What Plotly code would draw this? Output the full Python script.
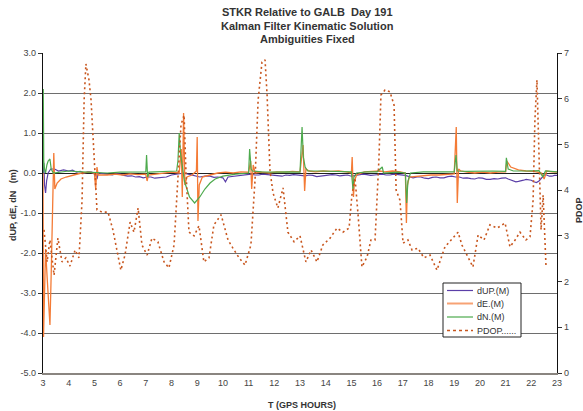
import plotly.graph_objects as go

# ---------------- data ----------------
t_up = [3.0, 3.03, 3.06, 3.1, 3.14, 3.2, 3.3, 3.45, 3.6, 3.8, 4.0, 4.15, 4.3, 4.45, 4.6, 4.75, 4.9, 5.05, 5.1, 5.15,
        5.4, 5.55, 5.7, 5.85, 6.0, 6.15, 6.3, 6.45, 6.6, 6.75, 6.9, 7.05, 7.2, 7.35, 7.5, 7.65, 7.8, 8.0, 8.15, 8.3,
        8.5, 8.65, 8.8, 8.95, 9.1, 9.3, 9.5, 9.65, 9.8, 10.0, 10.1, 10.2, 10.35, 10.5, 10.65, 10.8, 10.95, 11.1, 11.25,
        11.4, 11.55, 11.7, 11.85, 12.0, 12.15, 12.3, 12.45, 12.6, 12.75, 12.9, 13.05, 13.2, 13.35, 13.5, 13.65, 13.8,
        13.95, 14.1, 14.25, 14.4, 14.55, 14.7, 14.85, 15.0, 15.15, 15.3, 15.45, 15.6, 15.75, 15.9, 16.05, 16.2, 16.35,
        16.5, 16.65, 16.8, 16.95, 17.1, 17.25, 17.4, 17.55, 17.7, 17.85, 18.0, 18.15, 18.3, 18.45, 18.6, 18.75, 18.9,
        19.05, 19.2, 19.35, 19.5, 19.65, 19.8, 19.95, 20.1, 20.25, 20.4, 20.55, 20.7, 20.85, 21.0, 21.1, 21.2, 21.3,
        21.4, 21.5, 21.6, 21.7, 21.8, 21.9, 22.0, 22.1, 22.2, 22.3, 22.4, 22.5, 22.6, 22.7, 22.8, 22.9, 23.0]
d_up = [0.0, 0.25, -0.3, -0.5, -0.2, 0.0, 0.1, 0.1, 0.05, 0.08, 0.05, 0.07, 0.02, 0.04, 0.0, 0.03, 0.02, -0.05, -0.15, 0.0,
        -0.02, -0.04, -0.05, -0.02, -0.03, -0.06, -0.08, -0.07, -0.1, -0.09, -0.12, -0.1, -0.1, -0.13, -0.12, -0.1, -0.1, -0.05, -0.04, -0.02,
        0.0, -0.03, -0.05, -0.07, -0.1, -0.08, -0.08, -0.11, -0.1, -0.12, -0.22, -0.1, -0.09, -0.08, -0.06, -0.05, -0.04, -0.03, -0.05,
        -0.05, -0.03, -0.04, -0.06, -0.06, -0.08, -0.08, -0.05, -0.06, -0.04, -0.05, -0.06, -0.07, -0.05, -0.06, -0.09, -0.08,
        -0.06, -0.06, -0.04, -0.05, -0.07, -0.06, -0.05, -0.08, -0.06, -0.05, -0.03, -0.04, -0.06, -0.05, -0.04, -0.03, -0.05,
        -0.05, -0.03, -0.04, -0.06, -0.06, -0.09, -0.12, -0.1, -0.1, -0.13, -0.14, -0.11, -0.1, -0.12, -0.12, -0.09, -0.08,
        -0.1, -0.1, -0.13, -0.12, -0.14, -0.15, -0.12, -0.13, -0.16, -0.16, -0.14, -0.15, -0.13, -0.12, -0.15, -0.18, -0.2,
        -0.22, -0.21, -0.2, -0.18, -0.16, -0.17, -0.18, -0.22, -0.24, -0.2, -0.12, -0.05, -0.05, -0.08, -0.08, -0.06, -0.06]

t_e = [3.0, 3.02, 3.06, 3.1, 3.16, 3.22, 3.27, 3.32, 3.37, 3.42, 3.46, 3.55, 3.7, 3.9, 4.2, 4.5, 4.8, 5.0, 5.05, 5.1,
       5.15, 5.5, 5.8, 6.1, 6.4, 6.7, 7.0, 7.05, 7.1, 7.4, 7.7, 8.0, 8.3, 8.38, 8.42, 8.47, 8.52, 8.6, 8.8, 8.97,
       9.0, 9.03, 9.08, 9.2, 9.5, 9.8, 10.1, 10.4, 10.7, 11.0, 11.08, 11.12, 11.18, 11.25, 11.5, 11.8, 12.1, 12.4, 12.7,
       13.0, 13.12, 13.18, 13.23, 13.35, 13.6, 13.9, 14.2, 14.5, 14.8, 15.0, 15.03, 15.08, 15.12, 15.2, 15.5, 15.8, 16.1,
       16.3, 16.6, 16.9, 17.1, 17.14, 17.18, 17.25, 17.5, 17.8, 18.1, 18.4, 18.7, 19.0, 19.08, 19.12, 19.17, 19.25, 19.5,
       19.8, 20.1, 20.4, 20.7, 21.0, 21.05, 21.2, 21.5, 21.8, 22.1, 22.4, 22.5, 22.6, 22.8, 23.0]
d_e = [0.0, -4.1, -3.0, -1.9, -2.6, -3.4, -3.8, -2.5, -0.8, 0.5, -0.4, -0.25, -0.15, -0.1, -0.05, 0.0, 0.02, 0.0, -0.4, 0.15,
       -0.05, -0.05, -0.03, -0.05, -0.02, -0.04, -0.03, -0.2, -0.05, -0.03, 0.0, 0.02, 0.0, 0.6, -0.6, 1.5, -0.3, -0.1, -0.05, 0.05,
       0.9, -1.2, -0.3, -0.1, -0.05, 0.0, 0.02, 0.0, 0.03, 0.02, 0.3, -0.4, 0.2, 0.0, 0.02, 0.0, 0.03, 0.02, 0.04,
       0.03, 0.7, -0.45, 0.1, 0.05, 0.03, 0.05, 0.04, 0.05, 0.03, 0.0, 0.4, -0.6, -0.2, -0.05, 0.03, 0.04, 0.05,
       0.03, 0.05, 0.03, 0.0, -1.25, -0.3, -0.1, -0.08, -0.07, -0.05, -0.05, -0.04, -0.02, 1.15, -0.75, 0.1, 0.05, 0.02,
       0.0, 0.02, 0.0, 0.02, 0.03, 0.3, 0.15, 0.08, 0.05, 0.04, 0.0, -0.15, 0.05, 0.03, 0.02]

t_n = [3.0, 3.01, 3.03, 3.06, 3.1, 3.15, 3.2, 3.27, 3.32, 3.4, 3.6, 4.0, 4.5, 5.0, 5.5, 6.0, 6.5, 7.0, 7.03, 7.07,
       7.12, 7.5, 8.0, 8.2, 8.25, 8.3, 8.35, 8.42, 8.5, 8.7, 8.9, 9.1, 9.3, 9.5, 9.7, 10.0, 10.5, 11.0, 11.04, 11.1,
       11.15, 11.5, 12.0, 12.5, 13.0, 13.08, 13.13, 13.2, 13.3, 13.8, 14.5, 15.0, 15.06, 15.1, 15.2, 15.6, 16.0, 16.2,
       16.25, 16.8, 17.1, 17.15, 17.2, 17.3, 17.8, 18.5, 19.0, 19.07, 19.12, 19.5, 20.0, 20.5, 21.0, 21.03, 21.1, 21.3,
       21.8, 22.3, 22.45, 22.55, 23.0]
d_n = [0.0, 2.1, 0.3, 0.1, 0.0, 0.2, 0.3, 0.35, 0.1, 0.0, 0.02, 0.05, 0.03, 0.02, 0.0, 0.02, 0.03, 0.03, 0.45, -0.1,
       0.02, 0.03, 0.05, 0.05, 0.3, 1.0, 0.5, 0.1, -0.2, -0.6, -0.75, -0.6, -0.4, -0.25, -0.15, -0.08, -0.03, 0.0, 0.6, 0.1,
       0.05, 0.03, 0.02, 0.03, 0.02, 1.15, 0.4, 0.15, 0.05, 0.05, 0.04, 0.03, -0.4, -0.1, 0.0, 0.03, 0.03, 0.15,
       0.0, 0.02, 0.0, -0.75, -0.2, 0.0, 0.03, 0.04, 0.03, 0.45, 0.05, 0.04, 0.05, 0.05, 0.04, 0.38, 0.1, 0.05,
       0.05, 0.06, -0.1, 0.05, 0.03]

t_p = [3.04, 3.16, 3.27, 3.43, 3.58, 3.74, 3.89, 4.05, 4.25, 4.40, 4.52, 4.60, 4.67, 4.79, 4.87, 4.98, 5.10, 5.30, 5.53,
       5.72, 5.88, 6.03, 6.19, 6.39, 6.54, 6.70, 6.85, 7.05, 7.24, 7.47, 7.71, 7.90, 8.10, 8.25, 8.37, 8.49, 8.56, 8.68,
       8.88, 9.07, 9.26, 9.46, 9.65, 9.93, 10.20, 10.39, 10.63, 10.86, 11.09, 11.25, 11.37, 11.52, 11.64, 11.72, 11.83,
       11.95, 12.14, 12.34, 12.53, 12.77, 13.00, 13.23, 13.43, 13.66, 13.89, 14.17, 14.44, 14.67, 14.91, 15.02, 15.14,
       15.26, 15.41, 15.61, 15.76, 15.92, 16.07, 16.15, 16.31, 16.50, 16.66, 16.74, 16.89, 17.01, 17.20, 17.36, 17.59,
       17.82, 18.06, 18.33, 18.49, 18.64, 18.88, 19.15, 19.30, 19.50, 19.73, 19.93, 20.16, 20.39, 20.67, 20.98, 21.17,
       21.37, 21.56, 21.79, 21.95, 22.07, 22.14, 22.22, 22.30, 22.38, 22.46, 22.53, 22.57]
pdop = [3.13, 2.43, 2.91, 2.14, 2.95, 2.43, 2.52, 2.34, 2.69, 2.52, 3.78, 5.97, 6.76, 6.41, 5.97, 4.66, 3.57, 3.52, 3.52,
        3.13, 2.69, 2.25, 2.58, 3.30, 3.08, 3.61, 2.80, 2.58, 2.95, 2.87, 2.43, 2.30, 2.80, 4.22, 5.43, 5.64, 4.44, 3.08,
        3.00, 3.22, 2.43, 2.52, 3.24, 3.46, 2.91, 2.73, 2.52, 2.36, 2.80, 4.22, 5.97, 6.80, 6.85, 6.08, 4.44,
        3.94, 3.61, 4.05, 3.08, 2.87, 3.00, 2.43, 2.69, 2.43, 2.80, 2.95, 3.17, 3.08, 3.17, 3.89, 4.27,
        3.46, 2.32, 2.54, 2.91, 2.91, 4.66, 6.08, 6.19, 6.15, 5.86, 4.00, 3.78, 2.84, 2.91, 2.69, 2.73,
        2.52, 2.58, 2.25, 2.52, 2.76, 2.91, 3.08, 2.80, 2.58, 2.32, 3.02, 2.91, 3.24, 3.17, 3.28, 2.76,
        2.91, 3.08, 2.91, 2.98, 3.78, 5.53, 6.41, 4.88, 3.13, 3.89, 2.69, 2.36]

series_names = ["dUP.(M)", "dE.(M)", "dN.(M)", "PDOP......"]
x_ticks = list(range(3, 24))
y_ticks = [3.0, 2.0, 1.0, 0.0, -1.0, -2.0, -3.0, -4.0, -5.0]
y2_ticks = list(range(0, 8))

# ---------------- styles ----------------
FONT = "Arial, Liberation Sans, sans-serif"
colors = ["#5B3FA8", "#F47B36", "#4DAA4D", "#C8561E"]
legend_colors = ["#5B3FA8", "#F7A274", "#4DAA4D", "#C8561E"]
legend_widths = [1.2, 2.0, 1.2, 1.5]
legend_dash = ["solid", "solid", "solid", "3px,3px"]

fig = go.Figure()
fig.add_trace(go.Scatter(x=t_up, y=d_up, mode="lines", name=series_names[0],
                         line=dict(color=colors[0], width=1.2)))
fig.add_trace(go.Scatter(x=t_e, y=d_e, mode="lines", name=series_names[1],
                         line=dict(color=colors[1], width=1.3)))
fig.add_trace(go.Scatter(x=t_n, y=d_n, mode="lines", name=series_names[2],
                         line=dict(color=colors[2], width=1.2)))
fig.add_trace(go.Scatter(x=t_p, y=pdop, mode="lines", name=series_names[3], yaxis="y2",
                         line=dict(color=colors[3], width=1.6, dash="2px,3px")))

W, H = 583, 411
L, R, T, B = 43, 26, 53, 38
pw, ph = W - L - R, H - T - B


def px(xp):
    return (xp - L) / pw


def py(yp):
    return (H - B - yp) / ph


fig.update_layout(
    width=W, height=H, autosize=False,
    margin=dict(l=L, r=R, t=T, b=B, pad=0),
    paper_bgcolor="white", plot_bgcolor="white",
    font=dict(family=FONT, size=9, color="#333333"),
    showlegend=False,
    xaxis=dict(range=[3, 23], tickmode="array", tickvals=x_ticks, ticktext=[str(v) for v in x_ticks],
               showgrid=False, zeroline=False, showline=True, linecolor="#8a8580", linewidth=1.5,
               ticks="", tickfont=dict(size=9, color="#444444"), fixedrange=True),
    yaxis=dict(range=[-5, 3], tickmode="array", tickvals=y_ticks, ticktext=[f"{v:.1f}" for v in y_ticks],
               showgrid=True, gridcolor="#6e6e6e", gridwidth=1.3, zeroline=True, zerolinecolor="#222222",
               zerolinewidth=1, showline=True, linecolor="#111111", linewidth=1.3,
               ticks="outside", ticklen=4, tickcolor="#333333", tickfont=dict(size=9, color="#444444")),
    yaxis2=dict(range=[0, 7], overlaying="y", side="right", tickmode="array", tickvals=y2_ticks,
                ticktext=[str(v) for v in y2_ticks], showgrid=False, zeroline=False,
                showline=True, linecolor="#111111", linewidth=1.3,
                ticks="outside", ticklen=4, tickcolor="#333333", tickfont=dict(size=9, color="#444444")),
)

# legend box drawn in paper space
fig.add_shape(type="rect", xref="paper", yref="paper", x0=px(443), x1=px(521), y0=py(337), y1=py(283),
              line=dict(color="#222222", width=1), fillcolor="white", layer="above")
row_y = [290.5, 303.5, 317, 330.5]
for i, name in enumerate(series_names):
    fig.add_shape(type="line", xref="paper", yref="paper", x0=px(447), x1=px(473), y0=py(row_y[i]), y1=py(row_y[i]),
                  line=dict(color=legend_colors[i], width=legend_widths[i], dash=legend_dash[i]), layer="above")
    fig.add_annotation(text=name, xref="paper", yref="paper", x=px(475), y=py(row_y[i]),
                       xanchor="left", yanchor="middle", showarrow=False,
                       font=dict(family=FONT, size=9, color="#333333"))

# titles as annotations
title_lines = ["STKR Relative to GALB  Day 191", "Kalman Filter Kinematic Solution", "Ambiguities Fixed"]
for i, line in enumerate(title_lines):
    fig.add_annotation(text=f"<b>{line}</b>", xref="paper", yref="paper",
                       x=px(307), y=py(12 + 13.5 * i),
                       xanchor="center", yanchor="middle", showarrow=False,
                       font=dict(family=FONT, size=11, color="#333333"))
fig.add_annotation(text="<b>T (GPS HOURS)</b>", xref="paper", yref="paper",
                   x=px(302), y=py(405), xanchor="center", yanchor="middle",
                   showarrow=False, font=dict(family=FONT, size=9, color="#333333"))
fig.add_annotation(text="<b>dUP, dE, dN   (m)</b>", xref="paper", yref="paper",
                   x=px(13), y=py(205), xanchor="center", yanchor="middle",
                   textangle=-90, showarrow=False, font=dict(family=FONT, size=9, color="#333333"))
fig.add_annotation(text="<b>PDOP</b>", xref="paper", yref="paper",
                   x=px(579), y=py(210), xanchor="center", yanchor="middle",
                   textangle=-90, showarrow=False, font=dict(family=FONT, size=9, color="#333333"))

fig.write_html("out.html")
